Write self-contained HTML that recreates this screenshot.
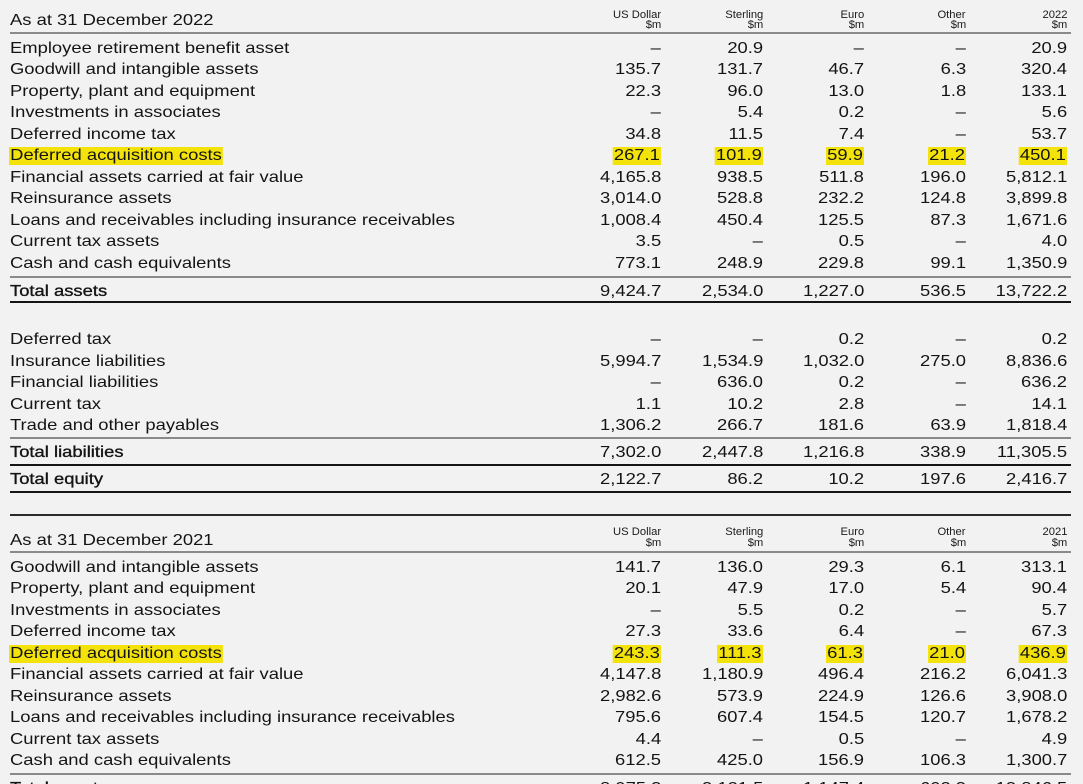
<!DOCTYPE html>
<html>
<head>
<meta charset="utf-8">
<style>
html,body{margin:0;padding:0;background:#f2f2f2;}
#w{position:relative;width:1083px;height:784px;overflow:hidden;background:#f2f2f2;font-family:"Liberation Sans",Arial,sans-serif;color:#141414;}
.r{position:absolute;left:0;width:1083px;height:18px;line-height:18px;font-size:16px;}
.r span{position:absolute;top:0;white-space:nowrap;}
.l{left:10px;transform-origin:0 50%;transform:scaleX(1.15);}
.n{transform-origin:100% 50%;transform:scaleX(1.15);}
.c1{right:422px}.c2{right:320px}.c3{right:219px}.c4{right:117px}.c5{right:16px}
.hl{background:#f3e30a;padding:0 1px;}
.l.hl{left:9px;}
.t{-webkit-text-stroke:0.35px #141414;}
.h{position:absolute;font-size:11px;line-height:12px;height:12px;white-space:nowrap;color:#1a1a1a;transform-origin:100% 50%;transform:scaleX(1.02);}
.ln{position:absolute;left:10px;width:1061px;}
.thin{height:2px;background:#8a8a8a;}
.thk{height:2px;background:#151515;}
.mid{height:2px;background:#2a2a2a;}
</style>
</head>
<body>
<div id="w">

<!-- 2022 header -->
<div class="r" style="top:12px"><span class="l">As at 31 December 2022</span></div>
<div class="h" style="top:9px;right:422px">US Dollar</div>
<div class="h" style="top:19px;right:422px">$m</div>
<div class="h" style="top:9px;right:320px">Sterling</div>
<div class="h" style="top:19px;right:320px">$m</div>
<div class="h" style="top:9px;right:219px">Euro</div>
<div class="h" style="top:19px;right:219px">$m</div>
<div class="h" style="top:9px;right:117px">Other</div>
<div class="h" style="top:19px;right:117px">$m</div>
<div class="h" style="top:9px;right:16px">2022</div>
<div class="h" style="top:19px;right:16px">$m</div>
<div class="ln thin" style="top:32px"></div>

<div class="r" style="top:39.5px"><span class="l">Employee retirement benefit asset</span><span class="n c1">–</span><span class="n c2">20.9</span><span class="n c3">–</span><span class="n c4">–</span><span class="n c5">20.9</span></div>
<div class="r" style="top:61px"><span class="l">Goodwill and intangible assets</span><span class="n c1">135.7</span><span class="n c2">131.7</span><span class="n c3">46.7</span><span class="n c4">6.3</span><span class="n c5">320.4</span></div>
<div class="r" style="top:82.5px"><span class="l">Property, plant and equipment</span><span class="n c1">22.3</span><span class="n c2">96.0</span><span class="n c3">13.0</span><span class="n c4">1.8</span><span class="n c5">133.1</span></div>
<div class="r" style="top:104px"><span class="l">Investments in associates</span><span class="n c1">–</span><span class="n c2">5.4</span><span class="n c3">0.2</span><span class="n c4">–</span><span class="n c5">5.6</span></div>
<div class="r" style="top:125.5px"><span class="l">Deferred income tax</span><span class="n c1">34.8</span><span class="n c2">11.5</span><span class="n c3">7.4</span><span class="n c4">–</span><span class="n c5">53.7</span></div>
<div class="r" style="top:147px"><span class="l hl">Deferred acquisition costs</span><span class="n c1 hl">267.1</span><span class="n c2 hl">101.9</span><span class="n c3 hl">59.9</span><span class="n c4 hl">21.2</span><span class="n c5 hl">450.1</span></div>
<div class="r" style="top:168.5px"><span class="l">Financial assets carried at fair value</span><span class="n c1">4,165.8</span><span class="n c2">938.5</span><span class="n c3">511.8</span><span class="n c4">196.0</span><span class="n c5">5,812.1</span></div>
<div class="r" style="top:190px"><span class="l">Reinsurance assets</span><span class="n c1">3,014.0</span><span class="n c2">528.8</span><span class="n c3">232.2</span><span class="n c4">124.8</span><span class="n c5">3,899.8</span></div>
<div class="r" style="top:211.5px"><span class="l">Loans and receivables including insurance receivables</span><span class="n c1">1,008.4</span><span class="n c2">450.4</span><span class="n c3">125.5</span><span class="n c4">87.3</span><span class="n c5">1,671.6</span></div>
<div class="r" style="top:233px"><span class="l">Current tax assets</span><span class="n c1">3.5</span><span class="n c2">–</span><span class="n c3">0.5</span><span class="n c4">–</span><span class="n c5">4.0</span></div>
<div class="r" style="top:254.5px"><span class="l">Cash and cash equivalents</span><span class="n c1">773.1</span><span class="n c2">248.9</span><span class="n c3">229.8</span><span class="n c4">99.1</span><span class="n c5">1,350.9</span></div>
<div class="ln thin" style="top:275.5px"></div>
<div class="r" style="top:282.5px"><span class="l t">Total assets</span><span class="n c1">9,424.7</span><span class="n c2">2,534.0</span><span class="n c3">1,227.0</span><span class="n c4">536.5</span><span class="n c5">13,722.2</span></div>
<div class="ln thk" style="top:301px"></div>

<!-- liabilities -->
<div class="r" style="top:331px"><span class="l">Deferred tax</span><span class="n c1">–</span><span class="n c2">–</span><span class="n c3">0.2</span><span class="n c4">–</span><span class="n c5">0.2</span></div>
<div class="r" style="top:352.5px"><span class="l">Insurance liabilities</span><span class="n c1">5,994.7</span><span class="n c2">1,534.9</span><span class="n c3">1,032.0</span><span class="n c4">275.0</span><span class="n c5">8,836.6</span></div>
<div class="r" style="top:374px"><span class="l">Financial liabilities</span><span class="n c1">–</span><span class="n c2">636.0</span><span class="n c3">0.2</span><span class="n c4">–</span><span class="n c5">636.2</span></div>
<div class="r" style="top:395.5px"><span class="l">Current tax</span><span class="n c1">1.1</span><span class="n c2">10.2</span><span class="n c3">2.8</span><span class="n c4">–</span><span class="n c5">14.1</span></div>
<div class="r" style="top:417px"><span class="l">Trade and other payables</span><span class="n c1">1,306.2</span><span class="n c2">266.7</span><span class="n c3">181.6</span><span class="n c4">63.9</span><span class="n c5">1,818.4</span></div>
<div class="ln thin" style="top:436.5px"></div>
<div class="r" style="top:443.5px"><span class="l t">Total liabilities</span><span class="n c1">7,302.0</span><span class="n c2">2,447.8</span><span class="n c3">1,216.8</span><span class="n c4">338.9</span><span class="n c5">11,305.5</span></div>
<div class="ln thk" style="top:463.5px"></div>
<div class="r" style="top:471px"><span class="l t">Total equity</span><span class="n c1">2,122.7</span><span class="n c2">86.2</span><span class="n c3">10.2</span><span class="n c4">197.6</span><span class="n c5">2,416.7</span></div>
<div class="ln thk" style="top:490.5px"></div>
<div class="ln mid" style="top:513.5px"></div>

<!-- 2021 header -->
<div class="r" style="top:531.5px"><span class="l">As at 31 December 2021</span></div>
<div class="h" style="top:526px;right:422px">US Dollar</div>
<div class="h" style="top:537px;right:422px">$m</div>
<div class="h" style="top:526px;right:320px">Sterling</div>
<div class="h" style="top:537px;right:320px">$m</div>
<div class="h" style="top:526px;right:219px">Euro</div>
<div class="h" style="top:537px;right:219px">$m</div>
<div class="h" style="top:526px;right:117px">Other</div>
<div class="h" style="top:537px;right:117px">$m</div>
<div class="h" style="top:526px;right:16px">2021</div>
<div class="h" style="top:537px;right:16px">$m</div>
<div class="ln thin" style="top:551px"></div>

<div class="r" style="top:558.5px"><span class="l">Goodwill and intangible assets</span><span class="n c1">141.7</span><span class="n c2">136.0</span><span class="n c3">29.3</span><span class="n c4">6.1</span><span class="n c5">313.1</span></div>
<div class="r" style="top:580px"><span class="l">Property, plant and equipment</span><span class="n c1">20.1</span><span class="n c2">47.9</span><span class="n c3">17.0</span><span class="n c4">5.4</span><span class="n c5">90.4</span></div>
<div class="r" style="top:601.5px"><span class="l">Investments in associates</span><span class="n c1">–</span><span class="n c2">5.5</span><span class="n c3">0.2</span><span class="n c4">–</span><span class="n c5">5.7</span></div>
<div class="r" style="top:623px"><span class="l">Deferred income tax</span><span class="n c1">27.3</span><span class="n c2">33.6</span><span class="n c3">6.4</span><span class="n c4">–</span><span class="n c5">67.3</span></div>
<div class="r" style="top:644.5px"><span class="l hl">Deferred acquisition costs</span><span class="n c1 hl">243.3</span><span class="n c2 hl">111.3</span><span class="n c3 hl">61.3</span><span class="n c4 hl">21.0</span><span class="n c5 hl">436.9</span></div>
<div class="r" style="top:666px"><span class="l">Financial assets carried at fair value</span><span class="n c1">4,147.8</span><span class="n c2">1,180.9</span><span class="n c3">496.4</span><span class="n c4">216.2</span><span class="n c5">6,041.3</span></div>
<div class="r" style="top:687.5px"><span class="l">Reinsurance assets</span><span class="n c1">2,982.6</span><span class="n c2">573.9</span><span class="n c3">224.9</span><span class="n c4">126.6</span><span class="n c5">3,908.0</span></div>
<div class="r" style="top:709px"><span class="l">Loans and receivables including insurance receivables</span><span class="n c1">795.6</span><span class="n c2">607.4</span><span class="n c3">154.5</span><span class="n c4">120.7</span><span class="n c5">1,678.2</span></div>
<div class="r" style="top:730.5px"><span class="l">Current tax assets</span><span class="n c1">4.4</span><span class="n c2">–</span><span class="n c3">0.5</span><span class="n c4">–</span><span class="n c5">4.9</span></div>
<div class="r" style="top:752px"><span class="l">Cash and cash equivalents</span><span class="n c1">612.5</span><span class="n c2">425.0</span><span class="n c3">156.9</span><span class="n c4">106.3</span><span class="n c5">1,300.7</span></div>
<div class="ln thin" style="top:773px"></div>
<div class="r" style="top:780px"><span class="l t">Total assets</span><span class="n c1">8,975.3</span><span class="n c2">3,121.5</span><span class="n c3">1,147.4</span><span class="n c4">602.3</span><span class="n c5">13,846.5</span></div>

</div>
</body>
</html>
